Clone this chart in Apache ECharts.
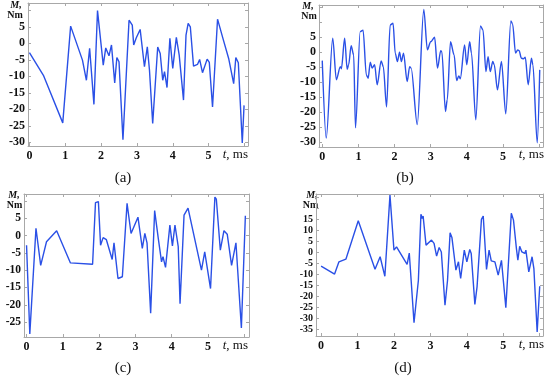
<!DOCTYPE html>
<html>
<head>
<meta charset="utf-8">
<script src="https://cdn.jsdelivr.net/npm/echarts@6/dist/echarts.min.js"></script>
<style>html,body{margin:0;padding:0;background:#fff}#c{width:550px;height:380px}</style>
</head>
<body>
<div id="c"></div>
<script>
// ---- data (t in ms, M in Nm) ----
var tA = [0,0.39,0.93,1.15,1.48,1.59,1.68,1.80,1.90,1.93,2.06,2.13,2.22,2.29,2.38,2.44,2.50,2.61,2.78,2.87,2.91,2.98,3.09,3.21,3.29,3.35,3.44,3.58,3.65,3.72,3.77,3.84,3.92,4.00,4.10,4.18,4.30,4.37,4.43,4.49,4.58,4.69,4.75,4.83,4.96,5.02,5.11,5.25,5.40,5.56,5.70,5.76,5.83,5.94,5.99];
var mA = [-2.8,-9.7,-24.1,5.2,-5.1,-11.2,-1.5,-18.5,9.9,9.3,-6.6,-1.4,-3.8,-0.5,-12,-4.3,-5.6,-29.2,7.0,5.5,-0.5,1.6,4.2,-7.1,-1.1,-8.1,-24.3,-1.1,-3.1,-11.2,-8.6,-13.4,1.5,-7.6,1.8,-3.6,-17.2,2.5,6.0,5.0,-6.9,-6.4,-4.9,-8.9,-4.8,-5.8,-19.3,7.3,1.5,-4.6,-12.2,-4.3,-5.9,-30.2,-18.8];

var tB = [0,0.11,0.29,0.39,0.50,0.53,0.62,0.69,0.73,0.80,0.87,0.92,1.05,1.13,1.22,1.27,1.33,1.38,1.45,1.52,1.63,1.69,1.78,1.88,1.96,2.02,2.08,2.14,2.19,2.25,2.35,2.42,2.46,2.63,2.81,2.91,3.00,3.11,3.19,3.28,3.31,3.41,3.46,3.55,3.65,3.72,3.78,3.82,3.94,4.00,4.08,4.13,4.25,4.38,4.45,4.53,4.59,4.65,4.72,4.76,4.85,4.96,5.08,5.22,5.27,5.35,5.41,5.45,5.51,5.57,5.62,5.70,5.79,5.83,5.95,6.02];
var mB = [-2.8,-28.7,4.7,-9.2,-4.8,-5.5,4.7,-5.7,-4.2,2.2,-0.9,-25.3,6.9,7.4,-7.6,-8.7,-3.3,-5.3,-4.2,-10.9,-2.9,-4.8,-18.3,9.1,9.7,-0.3,-3.1,0,-3.1,-0.3,-9.8,-4.8,-5.3,-24.2,14.3,0.8,3.5,5.0,-5.3,0.5,0.2,-19.8,-15.9,3.5,-0.9,-9.5,-7.9,-8.9,2.4,-4.2,3.5,-0.3,-22.6,8.8,7.4,-6.5,-1.5,-6.5,-3.1,-4.2,-12.6,-3.1,-20.6,10.5,9.4,-0.3,0.8,0.5,-2.0,-2.2,-1.7,-10.9,-2.0,-4.2,-30.3,-5.9];

var tC = [0,0.09,0.26,0.39,0.55,0.83,1.21,1.82,1.90,1.98,2.04,2.11,2.20,2.36,2.41,2.52,2.64,2.77,2.88,3.07,3.19,3.26,3.32,3.42,3.53,3.63,3.72,3.76,3.83,3.95,4.02,4.09,4.18,4.23,4.34,4.45,4.82,4.91,5.07,5.19,5.23,5.34,5.44,5.53,5.58,5.65,5.77,5.92,6.03];
var mC = [-2.8,-28.4,2.1,-8.6,-1.8,1.4,-7.9,-8.3,9.5,9.8,-2.8,-0.6,-1.2,-6.9,-2.1,-12.4,-11.9,9.3,0.6,5.3,-3.7,0.6,-2.1,-22.4,7.2,-0.8,-7.6,-6.1,-9.2,3.0,-3.0,3.0,-3.2,-19.7,5.9,7.9,-10.0,-4.7,-15.3,11.1,10.5,-4.2,1.4,0.4,0.6,-8.6,-2.1,-26.7,5.7];

var tD = [0,0.37,0.49,0.68,1.02,1.48,1.62,1.75,1.89,2.00,2.07,2.36,2.42,2.55,2.67,2.74,2.77,2.80,2.88,3.03,3.10,3.17,3.24,3.30,3.40,3.47,3.54,3.59,3.70,3.77,3.83,3.93,4.00,4.08,4.12,4.22,4.28,4.40,4.45,4.54,4.61,4.67,4.72,4.77,4.86,4.95,4.99,5.07,5.22,5.28,5.36,5.40,5.45,5.51,5.59,5.62,5.70,5.79,5.84,5.93,6.00];
var mD = [-6.3,-9.9,-4.3,-3.1,14.4,-7.7,-2.0,-10.9,26.1,1.0,2.5,-5.5,-0.3,-32,-12.7,17.4,15.5,16.5,3.3,5.6,4.1,-1.7,2.2,0.2,-24.1,-12.7,8.9,6.8,-8.1,-4.3,-11.9,1.0,-4.3,1.3,-0.5,-23.7,-15.7,15.0,16.5,-7.8,1.0,-3.9,-3.6,-4.3,-10.4,-3.6,-4.3,-25.2,17.8,14.7,1.8,-3.6,2.8,0.2,-0.5,1.0,-8.9,-2.0,-7.4,-36.3,-15.4];

// tick labels
var xLabels = [0,1,2,3,4,5];
var xTicks = [0,1,2,3,4,5,6];
var yLabelsA = [5,0,-5,-10,-15,-20,-25,-30];
var yTicksA = [10,5,0,-5,-10,-15,-20,-25,-30];
var yLabelsB = [5,0,-5,-10,-15,-20,-25,-30];
var yTicksB = [15,10,5,0,-5,-10,-15,-20,-25,-30];
var yLabelsC = [5,0,-5,-10,-15,-20,-25];
var yTicksC = [10,5,0,-5,-10,-15,-20,-25];
var yLabelsD = [15,10,5,0,-5,-10,-15,-20,-25,-30,-35];
var yTicksD = [25,20,15,10,5,0,-5,-10,-15,-20,-25,-30,-35];
var captions = ['(a)','(b)','(c)','(d)'];
var xName = '{i|t}, ms';
var yName1 = 'M,';
var yName2 = 'Nm';

function zip(t, m){ return t.map(function(v,i){ return [v, m[i]]; }); }

var FONT = 'Liberation Serif';
var FRAME = '#a8a8a8';
var LINE = '#2a50e6';

var panels = [
  {grid:{left:28,top:3,width:220,height:143}, x:[-0.04,6.1], y:[-31.1,12.2], yl:yLabelsA, yt:yTicksA, t:tA, m:mA, smooth:false, yfs:12,
   cap:[123,178], nm:[16,5.5,15,15.5], xn:[248,155]},
  {grid:{left:319,top:5,width:224,height:142}, x:[-0.09,6.11], y:[-31.7,15.8], yl:yLabelsB, yt:yTicksB, t:tB, m:mB, smooth:0.3, yfs:12,
   cap:[405,178], nm:[308,6,309,16.5], xn:[544,155]},
  {grid:{left:24,top:194,width:225,height:143}, x:[-0.07,6.13], y:[-29.3,12.0], yl:yLabelsC, yt:yTicksC, t:tC, m:mC, smooth:false, yfs:11.5,
   cap:[123,368], nm:[14,195.5,14.5,205], xn:[248,345.5]},
  {grid:{left:316,top:194,width:227,height:142}, x:[-0.14,6.09], y:[-38.1,26.6], yl:yLabelsD, yt:yTicksD, t:tD, m:mD, smooth:false, yfs:10,
   cap:[403,368], nm:[312,195.5,310.5,205.5], xn:[544,345]}
];

var grids=[], xAxes=[], yAxes=[], series=[], graphics=[];
panels.forEach(function(p, i){
  grids.push(p.grid);
  var common = {min:p.x[0], max:p.x[1], gridIndex:i, type:'value', splitLine:{show:false},
    axisLine:{show:true, onZero:false, lineStyle:{color:FRAME, width:1}},
    axisTick:{show:true, inside:true, length:3, customValues:xTicks, lineStyle:{color:FRAME}}};
  xAxes.push(Object.assign({}, common, {position:'bottom',
    axisLabel:{show:true, customValues:xLabels, margin:4, color:'#111', fontFamily:FONT, fontWeight:'bold', fontSize:12,
      showMinLabel:true, showMaxLabel:true, hideOverlap:false}}));
  xAxes.push(Object.assign({}, common, {position:'top', axisLabel:{show:false}}));
  var ycommon = {min:p.y[0], max:p.y[1], gridIndex:i, type:'value', splitLine:{show:false},
    axisLine:{show:true, onZero:false, lineStyle:{color:FRAME, width:1}},
    axisTick:{show:true, inside:true, length:3, customValues:p.yt, lineStyle:{color:FRAME}}};
  yAxes.push(Object.assign({}, ycommon, {position:'left',
    axisLabel:{show:true, customValues:p.yl, margin:3, color:'#111', fontFamily:FONT, fontWeight:'bold', fontSize:p.yfs,
      showMinLabel:true, showMaxLabel:true, hideOverlap:false}}));
  yAxes.push(Object.assign({}, ycommon, {position:'right', axisLabel:{show:false}}));
  series.push({type:'line', xAxisIndex:2*i, yAxisIndex:2*i, data:zip(p.t,p.m), showSymbol:false,
    smooth:p.smooth, smoothMonotone:'x', lineStyle:{color:LINE, width:1.4}, animation:false});
  graphics.push({type:'text', x:p.cap[0], y:p.cap[1], style:{text:captions[i], align:'center', verticalAlign:'middle',
    font:'15px "Liberation Serif"', fill:'#111'}});
  graphics.push({type:'text', x:p.nm[0], y:p.nm[1], style:{text:yName1, align:'center', verticalAlign:'middle',
    font:'italic bold 10px "Liberation Serif"', fill:'#111'}});
  graphics.push({type:'text', x:p.nm[2], y:p.nm[3], style:{text:yName2, align:'center', verticalAlign:'middle',
    font:'bold 10px "Liberation Serif"', fill:'#111'}});
  graphics.push({type:'text', x:p.xn[0], y:p.xn[1], style:{text:xName, align:'right', verticalAlign:'middle',
    font:'13px "Liberation Serif"', fill:'#111', rich:{i:{fontStyle:'italic', fontFamily:FONT, fontSize:13, fill:'#111'}}}});
});

var chart = echarts.init(document.getElementById('c'), null, {renderer:'canvas'});
chart.setOption({animation:false, grid:grids, xAxis:xAxes, yAxis:yAxes, series:series, graphic:graphics});
</script>
</body>
</html>
